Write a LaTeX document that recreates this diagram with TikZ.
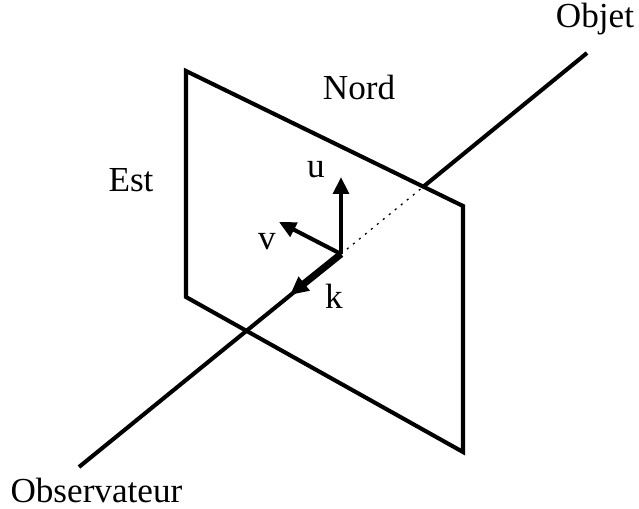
\documentclass[tikz,border=0pt]{standalone}
\usepackage{fontspec}
\setmainfont{Liberation Serif}
\usetikzlibrary{arrows.meta}

\begin{document}
\begin{tikzpicture}[line width=2.9pt,
 vec/.style={-{Triangle[length=12pt,width=11pt]}},
 lbl/.style={font=\fontsize{25}{30}\selectfont,inner sep=0pt,anchor=base}]
 \useasboundingbox (0,0) rectangle (15.975,12.7);
 % plan
 \coordinate (A) at (4.65,10.925);
 \coordinate (B) at (11.575,7.55);
 \coordinate (C) at (11.575,1.4);
 \coordinate (D) at (4.65,5.275);
 \draw (A)--(B)--(C)--(D)--cycle;
 % ligne de visee
 \coordinate (obs) at (1.975,1.025);
 \coordinate (obj) at (14.675,11.375);
 \coordinate (O) at (8.525,6.35);
 \coordinate (P) at (10.58,8.03);
 \draw (obs)--(O);
 \draw[line width=0.9pt,dash pattern=on 1.5pt off 4pt] (O)--(P);
 \draw (P)--(obj);
 % vecteurs
 \coordinate (utip) at (8.525,8.275);
 \coordinate (vtip) at (6.975,7.15);
 \coordinate (ktip) at (7.25,5.325);
 \draw[vec] (O)--(utip);
 \draw[vec] (O)--(vtip);
 \draw[line width=5pt,-{Triangle[length=13pt,width=12pt]}] (O)--(ktip);
 \node[lbl] (u) at (7.9,8.25){u};
 \node[lbl] (v) at (6.675,6.45){v};
 \node[lbl] (k) at (8.35,5.0){k};
 \node[lbl] (nord) at (8.975,10.2){Nord};
 \node[lbl] (est) at (3.275,7.9){Est};
 \node[lbl] (objet) at (14.875,12.0){Objet};
 \node[lbl] (observ) at (2.41,0.15){Observateur};
\end{tikzpicture}
\end{document}
